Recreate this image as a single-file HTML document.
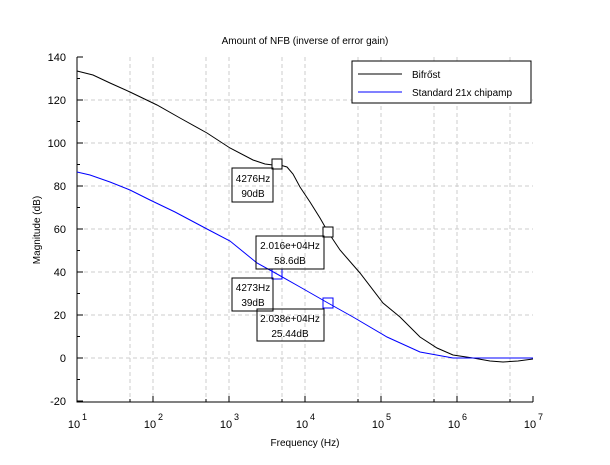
<!DOCTYPE html><html><head><style>body{margin:0;background:#fff}svg{font-family:"Liberation Sans",sans-serif}</style></head><body>
<svg width="610" height="460" xmlns="http://www.w3.org/2000/svg">
<rect width="610" height="460" fill="#fff"/>
<g stroke="#ccc" stroke-dasharray="4,3" stroke-width="1" fill="none">
<path d="M130,57V402M153,57V402M206,57V402M229,57V402M282,57V402M305,57V402M358,57V402M381,57V402M434,57V402M457,57V402M510,57V402"/>
<path d="M77,100H533M77,143H533M77,186H533M77,229H533M77,272H533M77,315H533M77,358H533"/>
</g>
<g stroke="#000" fill="none">
<path d="M77,57V402H533"/>
<path d="M77,401H83M77,358H83M77,315H83M77,272H83M77,229H83M77,186H83M77,143H83M77,100H83M77,57H83"/>
<path d="M77,379.5H80M77,336.5H80M77,293.5H80M77,250.5H80M77,207.5H80M77,164.5H80M77,121.5H80M77,78.5H80"/>
<path d="M153,402V396M229,402V396M305,402V396M381,402V396M457,402V396M533,402V396"/>
<path d="M130,402V399M206,402V399M282,402V399M358,402V399M434,402V399M510,402V399"/>
</g>
<g font-size="11" text-anchor="end">
<text x="66" y="405">-20</text><text x="66" y="362">0</text><text x="66" y="319">20</text><text x="66" y="276">40</text><text x="66" y="233">60</text><text x="66" y="190">80</text><text x="66" y="147">100</text><text x="66" y="104">120</text><text x="66" y="61">140</text>
</g>
<g font-size="11" text-anchor="middle">
<text x="74" y="428">10</text><text x="150" y="428">10</text><text x="226" y="428">10</text><text x="302" y="428">10</text><text x="378" y="428">10</text><text x="454" y="428">10</text><text x="530" y="428">10</text>
</g>
<g font-size="9">
<text x="82" y="420">1</text><text x="158" y="420">2</text><text x="234" y="420">3</text><text x="310" y="420">4</text><text x="386" y="420">5</text><text x="462" y="420">6</text><text x="538" y="420">7</text>
</g>
<text x="305" y="44" font-size="10" text-anchor="middle">Amount of NFB (inverse of error gain)</text>
<text x="305" y="446" font-size="10" text-anchor="middle">Frequency (Hz)</text>
<text transform="translate(40,230) rotate(-90)" font-size="10" text-anchor="middle">Magnitude (dB)</text>
<polyline fill="none" stroke="#000" stroke-width="1" points="77,71 93,75 110,83 130,92 157,105 180,118 207,133 230,148 253,160 265,164 273,165 280,165 287,167 293,174 300,187 310,202 320,218 328,232 340,250 360,273 383,303 400,317 420,337 437,348 453,355 473,358 490,361 503,362 518,361 533,359"/>
<polyline fill="none" stroke="#00f" stroke-width="1" points="77,172 90,175 110,182 130,190 150,200 175,212 207,229 230,241 257,263 277,274 300,287 328,303 353,317 387,337 420,352 453,358 533,358"/>
<rect x="272" y="159" width="10" height="10" fill="#fff" stroke="#000"/>
<rect x="323" y="227" width="10" height="10" fill="#fff" stroke="#000"/>
<rect x="272" y="269" width="10" height="10" fill="none" stroke="#00f"/>
<rect x="323" y="298" width="10" height="10" fill="none" stroke="#00f"/>
<g font-size="10" text-anchor="middle">
<rect x="232" y="168" width="41" height="34" fill="none" stroke="#000"/>
<text x="253" y="182">4276Hz</text><text x="253" y="197">90dB</text>
<rect x="256" y="236" width="68" height="33" fill="none" stroke="#000"/>
<text x="290" y="249">2.016e+04Hz</text><text x="290" y="264">58.6dB</text>
<rect x="232" y="278" width="41" height="33" fill="none" stroke="#000"/>
<text x="253" y="291">4273Hz</text><text x="253" y="306">39dB</text>
<rect x="257" y="309" width="67" height="32" fill="none" stroke="#000"/>
<text x="290" y="322">2.038e+04Hz</text><text x="290" y="337">25.44dB</text>
</g>
<rect x="352" y="61" width="179" height="42" fill="#fff" stroke="#000"/>
<line x1="358" y1="74" x2="402" y2="74" stroke="#000"/>
<line x1="358" y1="92" x2="402" y2="92" stroke="#00f"/>
<text x="412" y="78" font-size="10">Bifrőst</text>
<text x="412" y="96" font-size="10">Standard 21x chipamp</text>
</svg></body></html>
